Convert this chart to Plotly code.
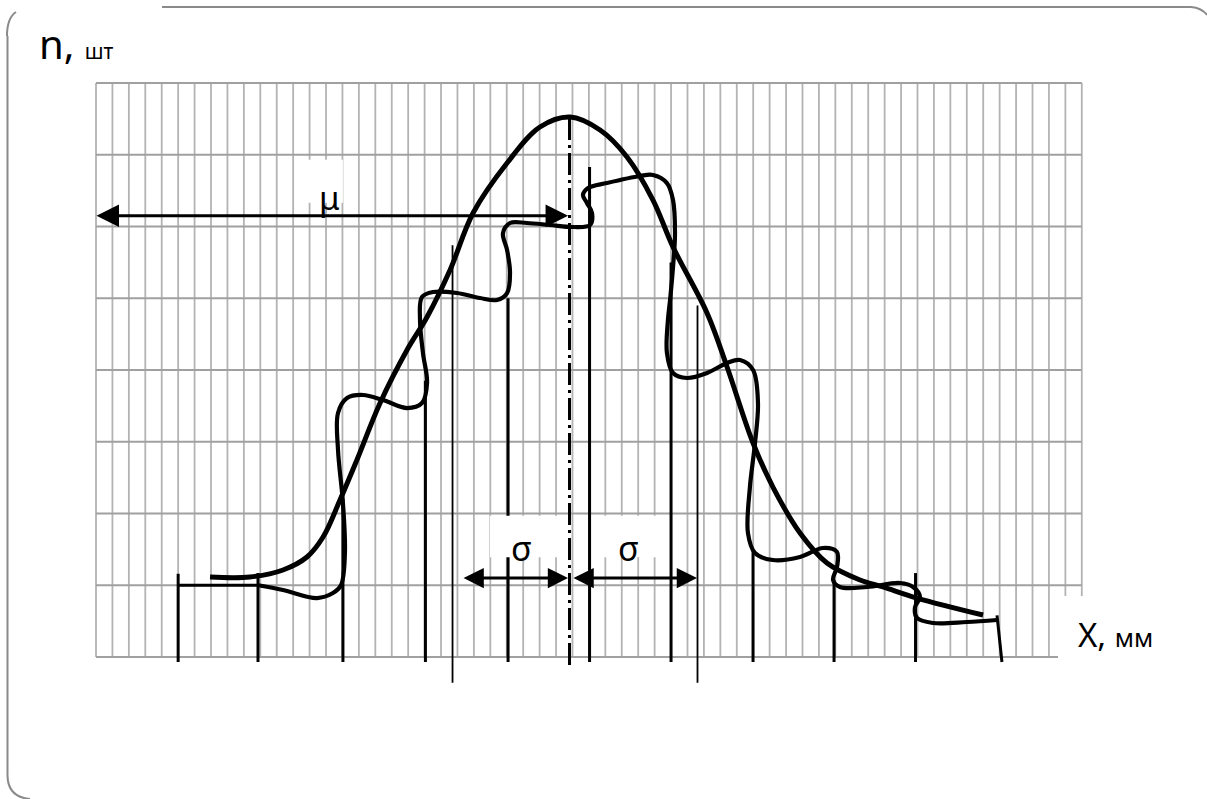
import plotly.graph_objects as go

# ---------------- data (grid units: x = column index 0..60, y = row 0..8) ----------------
grid_cols = list(range(0, 61))
grid_rows = list(range(0, 9))

# smooth normal-distribution curve
bell_x = [6.94, 9.37, 11.38, 12.84, 13.82, 14.85, 15.88, 17.29, 18.93, 20.15, 21.55, 22.95,
          25.02, 27.02, 28.85, 30.68, 32.32, 33.9, 35.12, 37.19, 38.41, 39.99, 41.2, 42.85,
          44.49, 46.5, 47.9, 49.97, 53.99]
bell_y = [1.115, 1.115, 1.213, 1.394, 1.672, 2.188, 2.746, 3.54, 4.279, 4.739, 5.394, 6.188,
          6.885, 7.387, 7.526, 7.345, 6.969, 6.369, 5.714, 4.794, 4.042, 2.983, 2.369, 1.728,
          1.31, 1.073, 0.976, 0.822, 0.585]

# hand-drawn empirical (histogram-like) curve
wavy_x = [9.86, 11.38, 13.45, 14.42, 14.91, 15.15, 15.03, 14.73, 14.73, 15.28, 16.25, 17.47,
          18.93, 19.84, 20.15, 19.9, 19.72, 19.84, 20.51, 21.97, 23.37, 24.41, 25.02, 25.2,
          25.02, 24.77, 25.2, 26.23, 27.63, 29.03, 30.07, 30.19, 29.88, 29.64, 29.95, 31.1,
          33.11, 33.9, 34.75, 35.12, 35.24, 35.12, 34.94, 34.81, 34.75, 35.12, 35.97, 37.19,
          38.41, 39.2, 39.99, 40.29, 40.11, 39.8, 39.68, 40.11, 41.2, 42.85, 44.25, 45.1,
          45.1, 44.86, 45.28, 46.93, 48.93, 49.73, 50.15, 49.85, 49.97, 50.94, 53.01, 54.84]
wavy_y = [1.0, 0.934, 0.822, 0.892, 1.0, 1.449, 2.146, 2.885, 3.401, 3.61, 3.652, 3.582,
          3.47, 3.54, 3.819, 4.237, 4.697, 5.017, 5.087, 5.073, 5.003, 4.976, 5.073, 5.352,
          5.672, 5.909, 6.049, 6.049, 6.021, 5.993, 6.021, 6.188, 6.328, 6.439, 6.537, 6.606,
          6.704, 6.718, 6.606, 6.369, 5.909, 5.436, 4.976, 4.697, 4.237, 3.958, 3.889, 3.958,
          4.098, 4.139, 4.0, 3.54, 2.983, 2.369, 1.728, 1.449, 1.352, 1.394, 1.519, 1.463,
          1.254, 1.073, 0.976, 0.976, 1.031, 0.976, 0.836, 0.697, 0.544, 0.474, 0.488, 0.516]

# first bin top (straight)
first_bin_x = [5.0, 9.86]
first_bin_y = [1.0, 1.0]

# bin edges (thick black verticals)
edge_x = [5.0, 9.86, 15.03, 20.05, 25.08, 30.04, 35.0, 39.99, 44.92, 49.88]
edge_top = [1.16, 1.17, 2.2, 3.85, 5.0, 6.83, 5.5, 1.5, 1.07, 1.17]
edge_bottom = -0.07
last_edge_x = [54.84, 55.14]
last_edge_y = [0.58, -0.07]

# sigma boundaries (thin long verticals)
sigma_x = [21.7, 36.61]
sigma_top = [5.74, 4.9]
sigma_bottom = -0.36

# mean line (dash-dot)
mean_x = 28.82
mean_top = 7.51
mean_bottom = -0.11

# arrows
mu_arrow = dict(x0=-0.06, x1=28.73, y=6.15)
sig_left = dict(x0=22.28, x1=28.73, y=1.10)
sig_right = dict(x0=28.97, x1=36.58, y=1.10)

# ---------------- page mapping ----------------
W, H = 1207, 799
X_RANGE = [-5.843, 67.62]
Y_RANGE = [-1.979, 9.157]

fig = go.Figure()

# grid
gx, gy = [], []
for c in grid_cols:
    y0 = 0.85 if c >= 59 else 0
    gx += [c, c, None]
    gy += [y0, 8, None]
fig.add_trace(go.Scatter(x=gx, y=gy, mode="lines", line=dict(color="#b3b3b3", width=1.8),
                         hoverinfo="skip", showlegend=False))
hx, hy = [], []
for r in grid_rows:
    x1 = 58.55 if r == 0 else 60
    hx += [0, x1, None]
    hy += [r, r, None]
fig.add_trace(go.Scatter(x=hx, y=hy, mode="lines", line=dict(color="#a0a0a0", width=2),
                         hoverinfo="skip", showlegend=False))

# bin edges
ex, ey = [], []
for x, t in zip(edge_x, edge_top):
    ex += [x, x, None]
    ey += [edge_bottom, t, None]
ex += last_edge_x + [None]
ey += last_edge_y + [None]
fig.add_trace(go.Scatter(x=ex, y=ey, mode="lines", line=dict(color="black", width=3),
                         hoverinfo="skip", showlegend=False))
fig.add_trace(go.Scatter(x=first_bin_x, y=first_bin_y, mode="lines",
                         line=dict(color="black", width=3), hoverinfo="skip", showlegend=False))

# sigma thin lines
sx, sy = [], []
for x, t in zip(sigma_x, sigma_top):
    sx += [x, x, None]
    sy += [sigma_bottom, t, None]
fig.add_trace(go.Scatter(x=sx, y=sy, mode="lines", line=dict(color="black", width=1.8),
                         hoverinfo="skip", showlegend=False))

# mean dash-dot
fig.add_trace(go.Scatter(x=[mean_x, mean_x], y=[mean_bottom, mean_top], mode="lines",
                         line=dict(color="black", width=3, dash="22px,5px,3px,5px"),
                         hoverinfo="skip", showlegend=False))

# curves
fig.add_trace(go.Scatter(x=wavy_x, y=wavy_y, mode="lines",
                         line=dict(color="black", width=4.2, shape="spline", smoothing=1.0),
                         hoverinfo="skip", showlegend=False))
fig.add_trace(go.Scatter(x=bell_x, y=bell_y, mode="lines",
                         line=dict(color="black", width=5, shape="spline", smoothing=1.0),
                         hoverinfo="skip", showlegend=False))

# white label boxes (cover grid)
shapes = []
for (x0, x1, y0, y1) in [(12.9, 15.03, 6.33, 6.93), (23.98, 28.24, 1.39, 1.97),
                         (30.37, 34.63, 1.39, 1.97), (58.6, 61.5, -0.3, 0.85)]:
    shapes.append(dict(type="rect", xref="x", yref="y", x0=x0, x1=x1, y0=y0, y1=y1,
                       fillcolor="white", line=dict(width=0), layer="above"))


def px(x):
    return x / W


def py(y):
    return 1 - y / H


border_col = "#8a8a8a"
shapes.append(dict(type="path", xref="paper", yref="paper",
                   path=f"M{px(7)},{py(36)} Q{px(7)},{py(18)} {px(16)},{py(12)}",
                   line=dict(color=border_col, width=2)))
shapes.append(dict(type="path", xref="paper", yref="paper",
                   path=f"M{px(7.5)},{py(36)} L{px(7.5)},{py(775)} Q{px(7.5)},{py(797)} {px(30)},{py(799)}",
                   line=dict(color=border_col, width=2)))
shapes.append(dict(type="path", xref="paper", yref="paper",
                   path=f"M{px(162)},{py(7)} L{px(1191)},{py(7)} Q{px(1202)},{py(8)} {px(1207)},{py(15)}",
                   line=dict(color=border_col, width=2)))

annotations = []


def arrow(x0, x1, y, size):
    return dict(x=x1, y=y, ax=x0, ay=y, xref="x", yref="y", axref="x", ayref="y",
                text="", showarrow=True, arrowhead=2, startarrowhead=2, arrowside="end+start",
                arrowwidth=3, arrowsize=size, startarrowsize=size, arrowcolor="black",
                standoff=0, startstandoff=0)


annotations.append(arrow(mu_arrow["x0"], mu_arrow["x1"], mu_arrow["y"], 1.5))
annotations.append(arrow(sig_left["x0"], sig_left["x1"], sig_left["y"], 1.35))
annotations.append(arrow(sig_right["x0"], sig_right["x1"], sig_right["y"], 1.35))

FONT = "Noto Sans, Open Sans, DejaVu Sans, sans-serif"
annotations.append(dict(x=px(37), y=py(44), xref="paper", yref="paper", xanchor="left",
                        yanchor="middle", showarrow=False,
                        text="n, <span style='font-size:21px'>шт</span>",
                        font=dict(family=FONT, size=40, color="black")))
annotations.append(dict(x=px(1076), y=py(634), xref="paper", yref="paper", xanchor="left",
                        yanchor="middle", showarrow=False,
                        text="X, <span style='font-size:25px'>мм</span>",
                        font=dict(family=FONT, size=33, color="black")))
annotations.append(dict(x=14.24, y=(657 - 197) / 71.75, xref="x", yref="y", showarrow=False,
                        text="μ", font=dict(family=FONT, size=33, color="black")))
annotations.append(dict(x=25.89, y=(657 - 548) / 71.75, xref="x", yref="y", showarrow=False,
                        text="σ", font=dict(family=FONT, size=34, color="black")))
annotations.append(dict(x=32.38, y=(657 - 548) / 71.75, xref="x", yref="y", showarrow=False,
                        text="σ", font=dict(family=FONT, size=34, color="black")))

fig.update_layout(width=W, height=H, autosize=False, margin=dict(l=0, r=0, t=0, b=0),
                  paper_bgcolor="white", plot_bgcolor="white",
                  xaxis=dict(range=X_RANGE, visible=False, fixedrange=True),
                  yaxis=dict(range=Y_RANGE, visible=False, fixedrange=True),
                  shapes=shapes, annotations=annotations, showlegend=False)

fig.write_html("out.html")
